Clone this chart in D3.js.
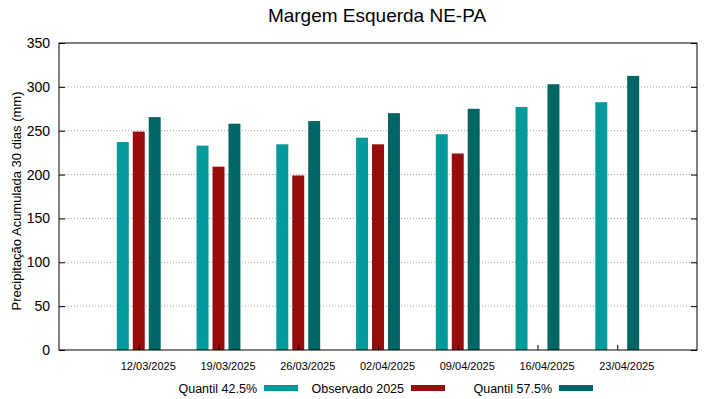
<!DOCTYPE html>
<html>
<head>
<meta charset="utf-8">
<script src="https://cdn.jsdelivr.net/npm/d3@7"></script>
<style>
  body { margin: 0; background: #fff; }
  svg { display: block; font-family: "Liberation Sans", Arial, sans-serif; }
</style>
</head>
<body>
<div id="chart"></div>
<script>
// data
const dates = ['12/03/2025', '19/03/2025', '26/03/2025', '02/04/2025', '09/04/2025', '16/04/2025', '23/04/2025'];
const q425 = [237, 233, 234.5, 242, 246, 277, 282.5];
const obs2025 = [249, 209, 199, 234.5, 224, null, null];
const q575 = [265.5, 258, 261, 270, 275, 303, 312.5];
const yTicks = [0, 50, 100, 150, 200, 250, 300, 350];

const series = [
  {name: 'Quantil 42.5%', values: q425, color: '#009a9a', offset: -0.2},
  {name: 'Observado 2025', values: obs2025, color: '#990c0c', offset: 0},
  {name: 'Quantil 57.5%', values: q575, color: '#006565', offset: 0.2}
];

const W = 719, H = 399;
const margin = {left: 59, right: 22, top: 43, bottom: 49};
const w = W - margin.left - margin.right;
const h = H - margin.top - margin.bottom;
const barW = 0.15; // in x units

const x = d3.scaleLinear().domain([-1, 7]).range([0, w]);
const y = d3.scaleLinear().domain([0, 350]).range([h, 0]);

const svg = d3.select('#chart').append('svg')
  .attr('width', W)
  .attr('height', H);

const g = svg.append('g').attr('transform', `translate(${margin.left}, ${margin.top})`);

// dotted grid
g.append('g').selectAll('line.grid')
  .data(yTicks.filter(t => t > 0 && t < 350))
  .enter().append('line')
  .attr('x1', 0).attr('x2', w)
  .attr('y1', d => y(d)).attr('y2', d => y(d))
  .attr('stroke', '#a0a0a0')
  .attr('stroke-width', 1)
  .attr('stroke-dasharray', '1,2');

// bars
series.forEach(s => {
  g.append('g').selectAll('rect')
    .data(s.values.map((v, i) => ({i, v})).filter(d => d.v != null))
    .enter().append('rect')
    .attr('x', d => x(d.i + s.offset - barW / 2))
    .attr('width', d => x(barW) - x(0))
    .attr('y', d => y(d.v))
    .attr('height', d => y(0) - y(d.v))
    .attr('fill', s.color);
});

// y axis left, ticks inward
const yAxis = g.append('g')
  .call(d3.axisLeft(y).tickValues(yTicks).tickSize(-6).tickPadding(9));
yAxis.select('.domain').remove();
yAxis.selectAll('text').attr('font-size', 14).attr('fill', '#000')
  .attr('font-family', '"Liberation Sans", Arial, sans-serif');

// right mirrored ticks
const yAxisR = g.append('g').attr('transform', `translate(${w},0)`)
  .call(d3.axisRight(y).tickValues(yTicks).tickSize(-6).tickFormat(''));
yAxisR.select('.domain').remove();

// x axis
const xAxis = g.append('g').attr('transform', `translate(0,${h})`)
  .call(d3.axisBottom(x).tickValues(d3.range(dates.length)).tickSize(-5).tickPadding(12)
    .tickFormat(i => dates[i]));
xAxis.select('.domain').remove();
xAxis.selectAll('text').attr('font-size', 11).attr('fill', '#000')
  .attr('dx', 9)
  .attr('font-family', '"Liberation Sans", Arial, sans-serif');

// frame
g.append('rect')
  .attr('width', w).attr('height', h)
  .attr('fill', 'none').attr('stroke', '#000').attr('stroke-width', 1);

// title
svg.append('text')
  .attr('x', 377).attr('y', 22)
  .attr('text-anchor', 'middle')
  .attr('font-size', 19)
  .text('Margem Esquerda NE-PA');

// y label
svg.append('text')
  .attr('transform', `translate(21, 201) rotate(-90)`)
  .attr('text-anchor', 'middle')
  .attr('font-size', 13)
  .text('Precipitação Acumulada 30 dias (mm)');

// legend
const legX = [257, 404, 552]; // text right edges
const legend = svg.append('g');
series.forEach((s, i) => {
  legend.append('text')
    .attr('x', legX[i]).attr('y', 393)
    .attr('text-anchor', 'end')
    .attr('font-size', 12.5)
    .text(s.name);
  legend.append('rect')
    .attr('x', legX[i] + 7).attr('y', 385)
    .attr('width', 34).attr('height', 6)
    .attr('fill', s.color);
});
</script>
</body>
</html>
